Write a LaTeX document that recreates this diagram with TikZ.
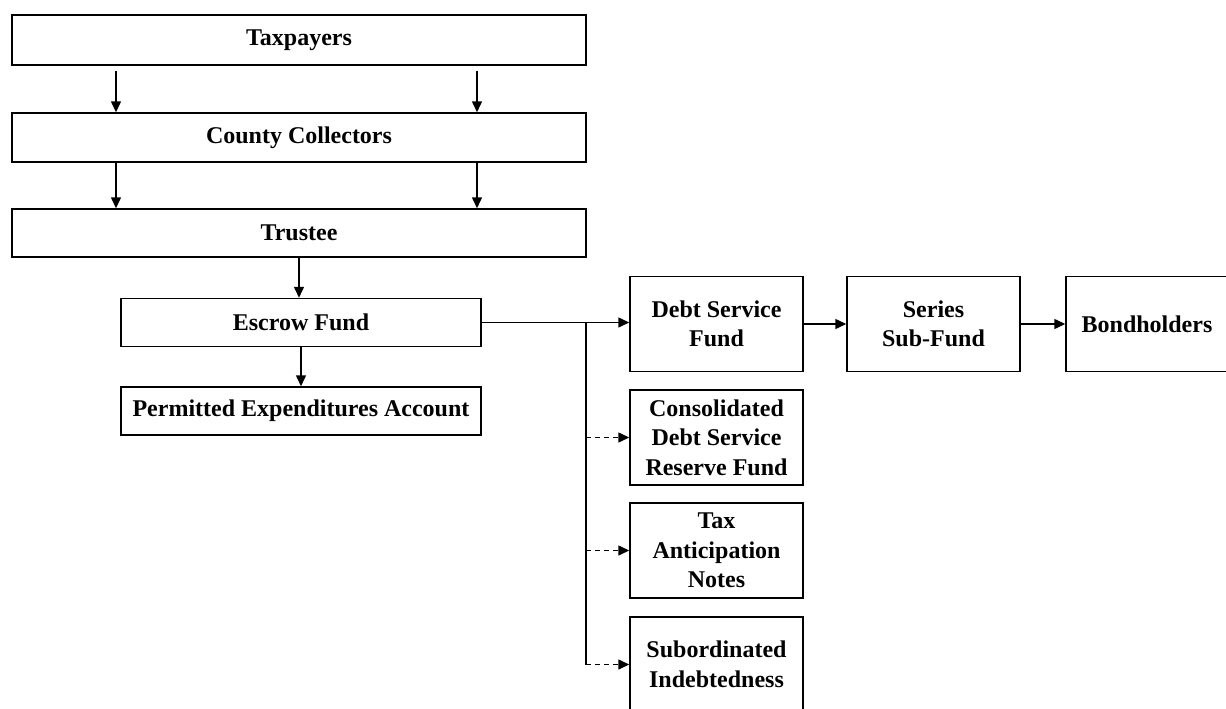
\documentclass[tikz,border=0pt]{standalone}
\usepackage{fontspec}
\setmainfont{Liberation Serif}
\usetikzlibrary{arrows.meta}
\begin{document}
\begin{tikzpicture}[x=1pt,y=-1pt,
  box/.style={draw, line width=1.5pt, rectangle, align=center,
    font=\fontsize{24}{29.5}\selectfont\bfseries, inner sep=0pt},
  wide/.style={box, minimum width=574pt},
  mid/.style={box, minimum width=360pt, minimum height=48pt},
  fund/.style={box, minimum width=173pt, minimum height=95pt},
  arr/.style={line width=1.5pt, -{Triangle[length=11pt,width=10pt]}},
  dsh/.style={arr, dash pattern=on 5pt off 4pt}]
\useasboundingbox (0,0) rectangle (1226,709);
\node[wide, minimum height=50pt] (tax) at (299,40) {Taxpayers};
\node[wide, minimum height=49pt] (cc) at (299,137.5) {County Collectors};
\node[wide, minimum height=48pt] (tr) at (299,233) {Trustee};
\node[mid] (esc) at (301,322.5) {Escrow Fund};
\node[mid] (pea) at (301,411) {Permitted Expenditures Account};
\node[fund] (dsf) at (716.5,324) {Debt Service\\Fund};
\node[fund] (ssf) at (933.5,324) {Series\\Sub-Fund};
\node[box, minimum width=162pt, minimum height=95pt] (bh) at (1147,324) {Bondholders};
\node[fund] (cd) at (716.5,437.5) {Consolidated\\Debt Service\\Reserve Fund};
\node[fund] (tan) at (716.5,550.5) {Tax\\Anticipation\\Notes};
\node[fund] (sub) at (716.5,664.5) {Subordinated\\Indebtedness};
\coordinate (j) at (586,0);
% top arrows
\draw[arr] ([xshift=-183pt,yshift=-5pt]tax.south) -- ([xshift=-183pt]cc.north);
\draw[arr] ([xshift=178pt,yshift=-5pt]tax.south) -- ([xshift=178pt]cc.north);
\draw[arr] ([xshift=-183pt]cc.south) -- ([xshift=-183pt]tr.north);
\draw[arr] ([xshift=178pt]cc.south) -- ([xshift=178pt]tr.north);
\draw[arr] (tr.south) -- (tr.south |- esc.north);
\draw[arr] (esc.south) -- (pea.north);
% right branch
\draw[arr] (esc.east) -- (esc.east -| dsf.west);
\draw[line width=1.5pt] (j |- esc.east) -- (j |- sub.west);
\draw[dsh] (j |- cd.west) -- (cd.west);
\draw[dsh] (j |- tan.west) -- (tan.west);
\draw[dsh] (j |- sub.west) -- (sub.west);
\draw[arr] (dsf.east) -- (ssf.west);
\draw[arr] (ssf.east) -- (bh.west);
\end{tikzpicture}
\end{document}
